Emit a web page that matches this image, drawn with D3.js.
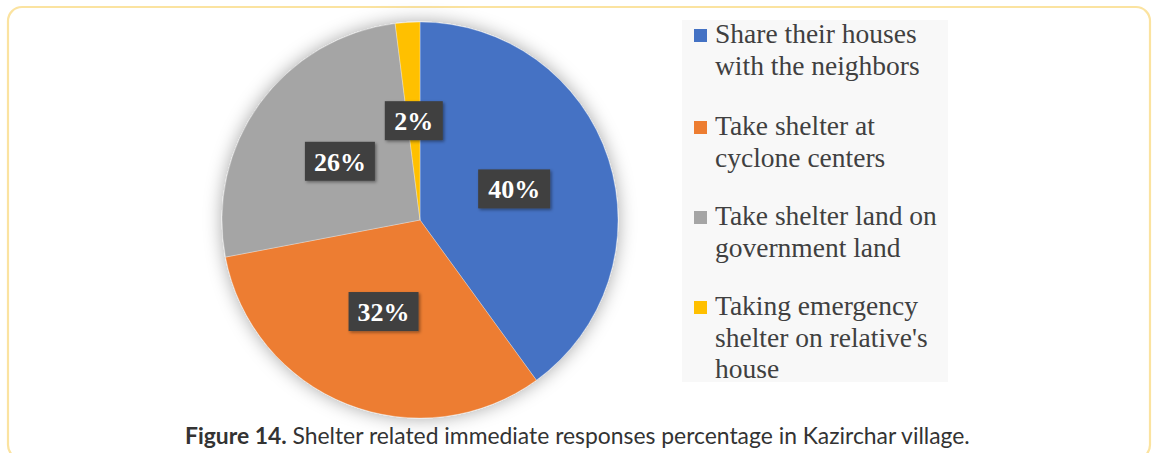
<!DOCTYPE html>
<html><head><meta charset="utf-8">
<script src="https://cdn.jsdelivr.net/npm/d3@7"></script>
<style>html,body{margin:0;padding:0;background:#fff;}svg{display:block;}</style>
</head><body>
<svg id="c" width="1153" height="453"></svg>
<script>
const categories = ["Share their houses with the neighbors","Take shelter at cyclone centers","Take shelter land on government land","Taking emergency shelter on relative's house"];
const legendLines = [["Share their houses","with the neighbors"],["Take shelter at","cyclone centers"],["Take shelter land on","government land"],["Taking emergency","shelter on relative's","house"]];
const values = [40, 32, 26, 2];
const labels = ["40%","32%","26%","2%"];
const colors = ["#4472c4","#ed7d31","#a5a5a5","#ffc000"];
const captionBold = "Figure 14.";
const captionText = " Shelter related immediate responses percentage in Kazirchar village.";

const svg = d3.select("#c");
const defs = svg.append("defs");
const f1 = defs.append("filter").attr("id","pieShadow").attr("x","-20%").attr("y","-20%").attr("width","140%").attr("height","140%");
f1.append("feDropShadow").attr("dx",0).attr("dy",0).attr("stdDeviation",9).attr("flood-color","#000").attr("flood-opacity",0.35);
const f2 = defs.append("filter").attr("id","boxShadow").attr("x","-20%").attr("y","-20%").attr("width","140%").attr("height","140%");
f2.append("feDropShadow").attr("dx",1.5).attr("dy",1.5).attr("stdDeviation",1.5).attr("flood-color","#000").attr("flood-opacity",0.4);

// frame
svg.append("rect").attr("x",8).attr("y",7).attr("width",1142).attr("height",452).attr("rx",14)
  .attr("fill","#fff").attr("stroke","#fbe3a0").attr("stroke-width",2.2);

// legend background
svg.append("rect").attr("x",682).attr("y",20).attr("width",266).attr("height",362).attr("fill","#f8f8f8");

const cx = 420, cy = 220, r = 198;
const pie = d3.pie().sort(null).value(d=>d)(values);
const arc = d3.arc().innerRadius(0).outerRadius(r);
const g = svg.append("g").attr("transform",`translate(${cx},${cy})`);
g.append("g").attr("filter","url(#pieShadow)").selectAll("path").data(pie).join("path")
  .attr("d",arc).attr("fill",(d,i)=>colors[i]).attr("stroke","#fff").attr("stroke-width",0.3);

const lblW = [72,70,70,58];
const lg = g.selectAll("g.lbl").data(pie).join("g").attr("class","lbl")
  .attr("transform",d=>{const c=arc.centroid(d);return `translate(${c[0]},${c[1]})`;});
lg.append("rect").attr("x",(d,i)=>-lblW[i]/2).attr("y",-20).attr("width",(d,i)=>lblW[i]).attr("height",39)
  .attr("fill","#404040").attr("filter","url(#boxShadow)");
lg.append("text").attr("text-anchor","middle").attr("y",9).attr("fill","#fff")
  .attr("font-family","'Liberation Serif','Times New Roman',serif").attr("font-weight","bold").attr("font-size",26)
  .text((d,i)=>labels[i]);

// legend
const legendStarts = [43,135,225,315];
const lh = 31.5;
const leg = svg.append("g");
legendLines.forEach((lines,i)=>{
  leg.append("rect").attr("x",694).attr("y",legendStarts[i]-14).attr("width",13).attr("height",13).attr("fill",colors[i]);
  const t = leg.append("text").attr("font-family","'Liberation Serif','Times New Roman',serif").attr("font-size",27.5).attr("fill","#404040");
  lines.forEach((ln,j)=>{
    t.append("tspan").attr("x",715).attr("y",legendStarts[i]+j*lh).text(ln);
  });
});

// caption
const cap = svg.append("text").attr("x",185).attr("y",444).attr("font-family","Lato,'Open Sans',sans-serif").attr("font-size",19).attr("fill","#333");
cap.append("tspan").attr("font-weight","bold").text(captionBold);
cap.append("tspan").text(captionText);
const w = cap.node().getComputedTextLength();
cap.attr("font-size", 19*785/w);
</script>
</body></html>
